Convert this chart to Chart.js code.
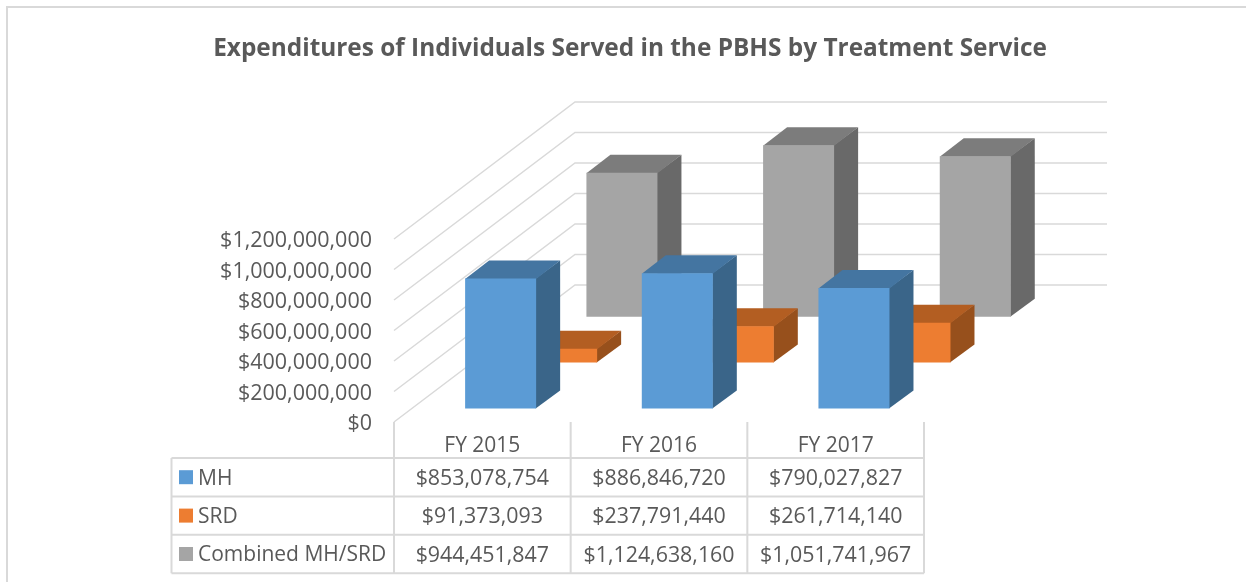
<!DOCTYPE html>
<html>
<head>
<meta charset="utf-8">
<title>Expenditures by Treatment Service</title>
<script src="https://cdn.jsdelivr.net/npm/chart.js@4/dist/chart.umd.min.js"></script>
<style>
body { margin: 0; background: #fff; }
canvas { display: block; }
</style>
</head>
<body>
<canvas id="myChart" width="1246" height="582"></canvas>
<script>
const chart_title = 'Expenditures of Individuals Served in the PBHS by Treatment Service'
const years = ['FY 2015', 'FY 2016', 'FY 2017']
const mh = [853078754, 886846720, 790027827]
const srd = [91373093, 237791440, 261714140]
const combined = [944451847, 1124638160, 1051741967]
const series_names = ['MH', 'SRD', 'Combined MH/SRD']

const font_family = '"Open Sans", sans-serif'
const text_color = '#595959'
const line_color = '#d9d9d9'
const front_colors = ['#5b9bd5', '#ed7d31', '#a5a5a5']
const top_colors = ['#4475a1', '#b35e22', '#7c7c7c']
const side_colors = ['#3a6589', '#97501c', '#696969']

// fake 3d: how far each series sits back from the front of the floor
const series_dx = [18.3, 79.3, 139.6]
const series_dy = [-13.4, -59.4, -105.3]
const bar_dx = 24
const bar_dy = -18
const wall_dx = 181
const wall_dy = -137
const wall_right = 1107

const row_h = 38.4
const money = v => '$' + Number(v).toLocaleString('en-US')

const fake3d = {
    id: 'fake3d',
    afterLayout(chart) {
        chart.titleBlock.left = 14
        chart.titleBlock.right = 1246
    },
    beforeDatasetsDraw(chart) {
        const ctx = chart.ctx
        const y = chart.scales.y
        ctx.save()
        ctx.strokeStyle = line_color
        ctx.lineWidth = 1.5
        for (const t of y.ticks) {
            const py = y.getPixelForValue(t.value)
            ctx.beginPath()
            ctx.moveTo(chart.chartArea.left, py)
            ctx.lineTo(chart.chartArea.left + wall_dx, py + wall_dy)
            ctx.lineTo(wall_right, py + wall_dy)
            ctx.stroke()
        }
        ctx.restore()
    },
    beforeDatasetDraw(chart, args) {
        const ctx = chart.ctx
        const i = args.index
        ctx.save()
        ctx.translate(series_dx[i], series_dy[i])
        for (const bar of args.meta.data) {
            const l = bar.x - bar.width / 2
            const r = bar.x + bar.width / 2
            ctx.fillStyle = side_colors[i]
            ctx.beginPath()
            ctx.moveTo(r - 0.5, bar.y)
            ctx.lineTo(r + bar_dx, bar.y + bar_dy)
            ctx.lineTo(r + bar_dx, bar.base + bar_dy)
            ctx.lineTo(r - 0.5, bar.base)
            ctx.fill()
            ctx.fillStyle = top_colors[i]
            ctx.beginPath()
            ctx.moveTo(l, bar.y + 0.5)
            ctx.lineTo(l + bar_dx, bar.y + bar_dy)
            ctx.lineTo(r + bar_dx, bar.y + bar_dy)
            ctx.lineTo(r, bar.y + 0.5)
            ctx.fill()
        }
    },
    afterDatasetDraw(chart) {
        chart.ctx.restore()
    },
    afterDraw(chart) {
        const ctx = chart.ctx
        const area = chart.chartArea
        const col_w = (area.right - area.left) / years.length
        const table_top = 458
        const table_left = 171.5
        const table_bottom = table_top + row_h * series_names.length
        ctx.save()
        // picture frame, only left and top show
        ctx.strokeStyle = line_color
        ctx.lineWidth = 2
        ctx.beginPath()
        ctx.moveTo(7, 582)
        ctx.lineTo(7, 7)
        ctx.lineTo(1246, 7)
        ctx.stroke()
        // data table grid
        ctx.beginPath()
        for (let c = 0; c <= years.length; c++) {
            ctx.moveTo(area.left + c * col_w, area.bottom)
            ctx.lineTo(area.left + c * col_w, table_bottom)
        }
        ctx.moveTo(table_left, table_top)
        ctx.lineTo(table_left, table_bottom)
        for (let r = 0; r <= series_names.length; r++) {
            ctx.moveTo(table_left, table_top + r * row_h)
            ctx.lineTo(area.right, table_top + r * row_h)
        }
        ctx.stroke()
        ctx.textBaseline = 'middle'
        chart.data.datasets.forEach((ds, r) => {
            const cy = table_top + r * row_h + row_h / 2
            ctx.fillStyle = front_colors[r]
            ctx.fillRect(179, cy - 7, 14, 14)
            ctx.fillStyle = text_color
            ctx.textAlign = 'left'
            ctx.font = '21px ' + font_family
            ctx.fillText(ds.label, 198, cy + 1.5)
            ctx.textAlign = 'center'
            ctx.font = '21.4px ' + font_family
            ds.data.forEach((v, c) => {
                ctx.fillText(money(v), area.left + (c + 0.5) * col_w, cy + 1.5)
            })
        })
        ctx.restore()
    }
}

const all_series = [mh, srd, combined]

const myChart = new Chart(document.getElementById('myChart'), {
    type: 'bar',
    data: {
        labels: years,
        datasets: all_series.map((values, i) => ({
            label: series_names[i],
            data: values,
            backgroundColor: front_colors[i],
            clip: false
        }))
    },
    options: {
        responsive: false,
        animation: false,
        devicePixelRatio: 1,
        layout: { padding: { left: 10, right: 322, top: 0, bottom: 120 } },
        datasets: { bar: { grouped: false, categoryPercentage: 1, barPercentage: 0.402 } },
        plugins: {
            legend: { display: false },
            tooltip: { enabled: false },
            title: {
                display: true,
                text: chart_title,
                color: text_color,
                font: { family: font_family, size: 24.4, weight: 'bold', lineHeight: 1.2 },
                padding: { top: 34, bottom: 175.7 }
            }
        },
        scales: {
            x: {
                grid: { display: false, drawTicks: false },
                border: { display: false },
                ticks: {
                    color: text_color,
                    font: { family: font_family, size: 21 },
                    padding: 11,
                    maxRotation: 0
                },
                afterFit(scale) { scale.height = 40 }
            },
            y: {
                min: 0,
                max: 1200000000,
                grid: { display: false, drawTicks: false },
                border: { display: false },
                ticks: {
                    stepSize: 200000000,
                    color: text_color,
                    font: { family: font_family, size: 21.5 },
                    padding: 22,
                    labelOffset: 2,
                    callback: v => money(v)
                },
                afterFit(scale) { scale.width = 384 }
            }
        }
    },
    plugins: [fake3d]
})
</script>
</body>
</html>
